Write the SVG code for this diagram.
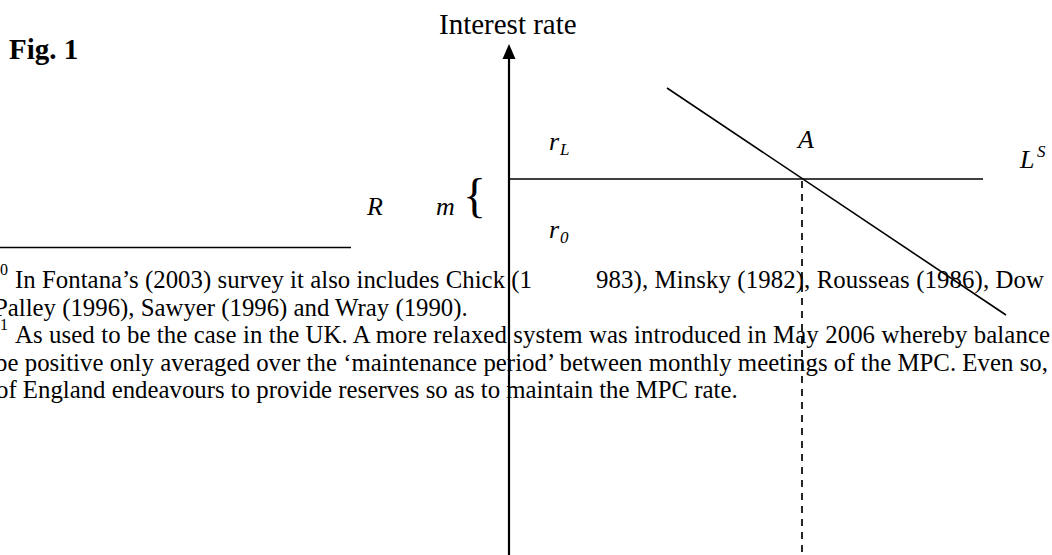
<svg xmlns="http://www.w3.org/2000/svg" width="1052" height="555" viewBox="0 0 1052 555">
<style>
text{font-family:"Liberation Serif","Times New Roman",serif;fill:#000}
.fn{font-size:24.8px}
.sup{font-size:16px}
.lab{font-style:italic;font-size:26px}
.sub{font-style:italic;font-size:17px}
.ln{stroke:#000;fill:none}
</style>
<rect width="1052" height="555" fill="#fff"/>
<g id="title"><text x="9" y="59" style="font-weight:bold;font-size:29px">Fig. 1</text></g>
<g id="footnotes">
<line class="ln" x1="0" y1="247.5" x2="351" y2="247.5" stroke-width="1.6"/>
<text class="sup" x="0" y="275">0</text>
<text class="fn" x="15" y="288" textLength="517" lengthAdjust="spacing">In Fontana’s (2003) survey it also includes Chick (1</text>
<text class="fn" x="596" y="288" textLength="448" lengthAdjust="spacing">983), Minsky (1982), Rousseas (1986), Dow</text>
<text class="fn" x="-6" y="315.5">Palley (1996), Sawyer (1996) and Wray (1990).</text>
<text class="sup" x="0" y="330">1</text>
<text class="fn" x="15" y="343" textLength="1035" lengthAdjust="spacing">As used to be the case in the UK. A more relaxed system was introduced in May 2006 whereby balance</text>
<text class="fn" x="-5" y="370.5" textLength="1053" lengthAdjust="spacing">be positive only averaged over the ‘maintenance period’ between monthly meetings of the MPC. Even so,</text>
<text class="fn" x="-4" y="398">of England endeavours to provide reserves so as to maintain the MPC rate.</text>
</g>
<g id="connectors">
<line class="ln" x1="509" y1="58" x2="509" y2="555" stroke-width="2.2"/>
<polygon points="509,44 502.5,59 515.5,59" fill="#000"/>
<line class="ln" x1="510" y1="179" x2="983" y2="179" stroke-width="1.6"/>
<line class="ln" x1="667" y1="88" x2="1006" y2="315" stroke-width="1.6"/>
<line class="ln" x1="802" y1="181" x2="802" y2="555" stroke-width="1.7" stroke-dasharray="7 6"/>
</g>
<g id="axis-label"><text x="439" y="34" style="font-size:29px">Interest rate</text></g>
<g id="rL"><text class="lab" x="549" y="150">r</text><text class="sub" x="560" y="155">L</text></g>
<g id="A"><text class="lab" x="798" y="148">A</text></g>
<g id="LS"><text class="lab" x="1020" y="168">L</text><text class="sub" x="1037" y="157">S</text></g>
<g id="R"><text class="lab" x="367" y="215">R</text></g>
<g id="m"><text class="lab" x="436" y="215">m</text><text x="463" y="212" style="font-size:48px">{</text></g>
<g id="r0"><text class="lab" x="549" y="238">r</text><text class="sub" x="560" y="243">0</text></g>
</svg>
